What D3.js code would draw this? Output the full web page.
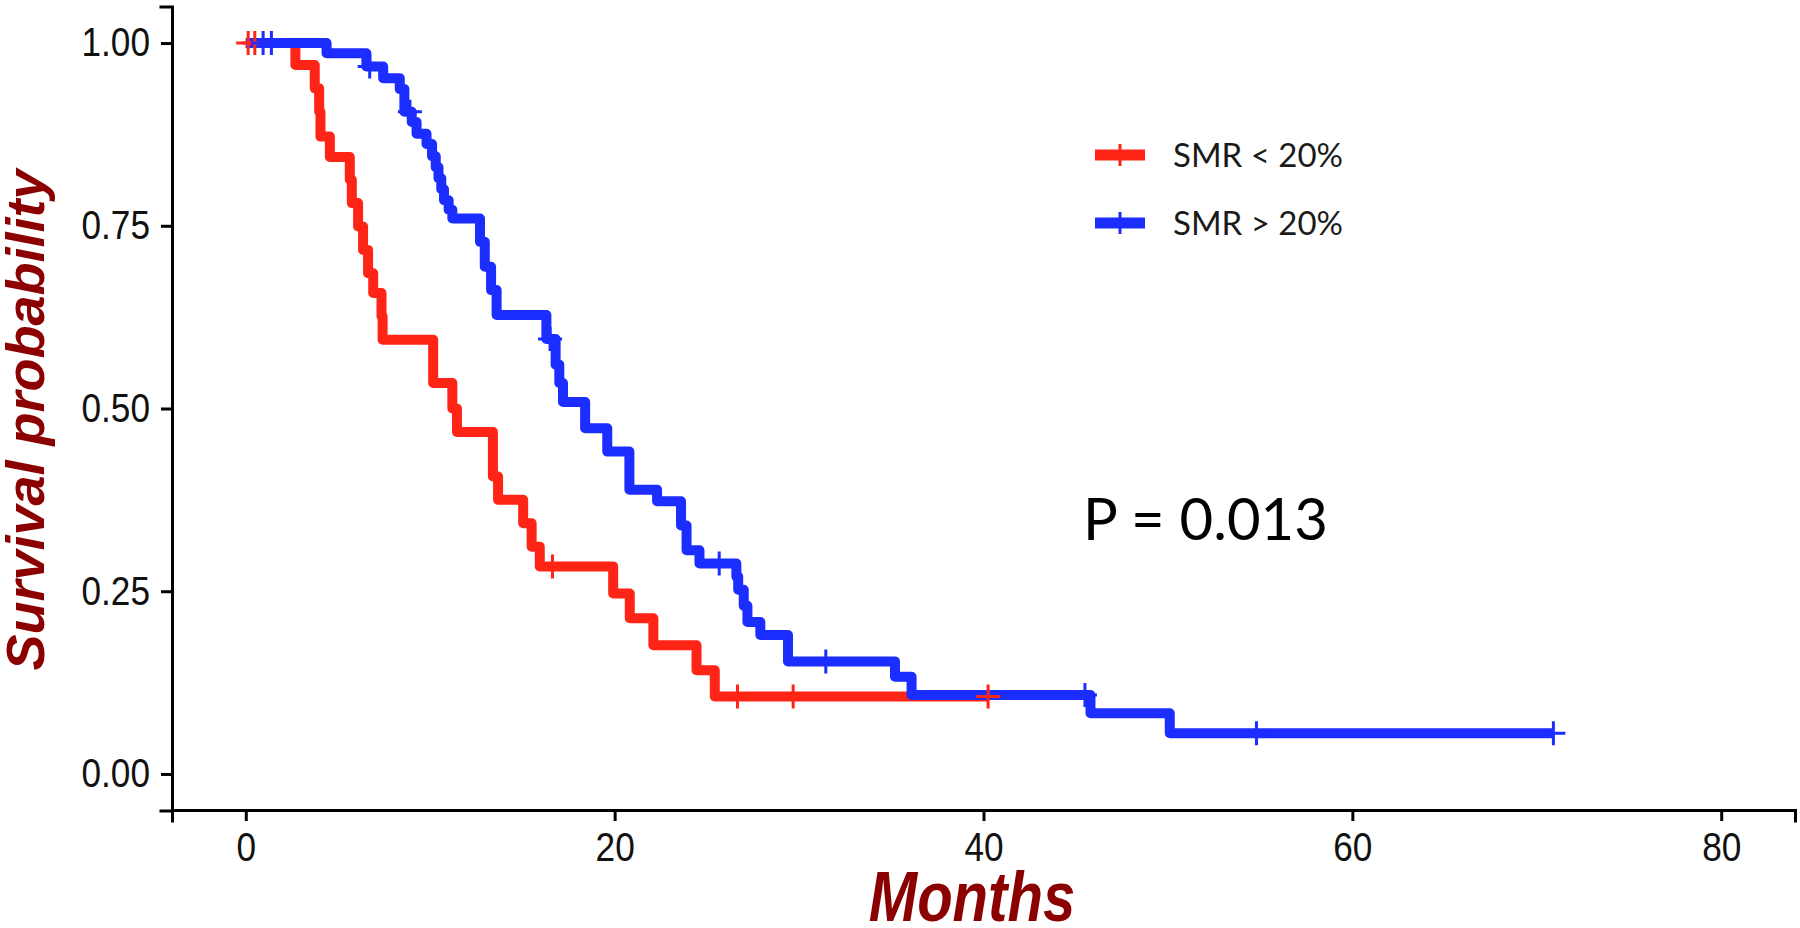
<!DOCTYPE html>
<html>
<head>
<meta charset="utf-8">
<script src="https://cdn.jsdelivr.net/npm/d3@7"></script>
<style>
  body { margin: 0; background: #fff; }
  svg { display: block; }
</style>
</head>
<body>
<svg id="chart" width="1800" height="928"></svg>
<script>
// Kaplan-Meier curves: [months, survival after the drop]
const redSteps = [
  [0, 1], [2.69, 0.970], [3.74, 0.938], [3.98, 0.906], [4.05, 0.872], [4.56, 0.844],
  [5.64, 0.813], [5.75, 0.781], [6.09, 0.749], [6.36, 0.717], [6.63, 0.685], [6.91, 0.658],
  [7.36, 0.626], [7.42, 0.594], [10.16, 0.535], [11.2, 0.50], [11.45, 0.468], [13.4, 0.407],
  [13.68, 0.375], [15.04, 0.343], [15.5, 0.311], [15.94, 0.284], [19.92, 0.247], [20.82, 0.213],
  [22.1, 0.176], [24.44, 0.142], [25.43, 0.106]
];
const redCensor = [0.13, 0.49, 16.63, 26.66, 29.68, 40.25];

const blueSteps = [
  [0, 1], [4.38, 0.986], [6.54, 0.968], [7.45, 0.952], [8.35, 0.937], [8.6, 0.906],
  [9.0, 0.892], [9.26, 0.876], [9.8, 0.862], [10.1, 0.845], [10.3, 0.83], [10.45, 0.815],
  [10.6, 0.80], [10.75, 0.785], [11.0, 0.772], [11.2, 0.760], [12.7, 0.728], [12.96, 0.694],
  [13.3, 0.662], [13.6, 0.628], [16.3, 0.595], [16.8, 0.56], [17.0, 0.535], [17.2, 0.509],
  [18.4, 0.473], [19.6, 0.441], [20.8, 0.389], [22.3, 0.373], [23.6, 0.34], [23.9, 0.306],
  [24.6, 0.288], [26.6, 0.27], [26.7, 0.252], [27.0, 0.23], [27.2, 0.208], [27.9, 0.190],
  [29.4, 0.154], [35.2, 0.133], [36.1, 0.108], [45.8, 0.083], [50.1, 0.0556]
];
const blueCensor = [0.94, 1.39, 6.72, 8.9, 16.5, 25.67, 31.45, 45.5, 54.8, 70.9];

const groups = ["SMR < 20%", "SMR > 20%"];
const colors = ["#ff2516", "#1b2dff"];
const xTicks = [0, 20, 40, 60, 80];
const yTicks = [0, 0.25, 0.5, 0.75, 1];
const pText = "P = 0.013";

const svg = d3.select("#chart");
const x = d3.scaleLinear().domain([-4, 84]).range([172, 1795]);
const y = d3.scaleLinear().domain([-0.05, 1.05]).range([810.5, 6.5]);

function survAt(steps, t) {
  let s = 1;
  steps.forEach(d => { if (d[0] <= t) s = d[1]; });
  return s;
}

// axes
const xAxis = svg.append("g")
  .attr("transform", "translate(0,810)")
  .call(d3.axisBottom(x).tickValues(xTicks).tickSizeOuter(0).tickSize(11).tickPadding(12));
const yAxis = svg.append("g")
  .attr("transform", "translate(172,0)")
  .call(d3.axisLeft(y).tickValues(yTicks).tickFormat(d3.format(".2f")).tickSizeOuter(0).tickSize(11).tickPadding(14));

[xAxis, yAxis].forEach(a => {
  a.select(".domain").attr("stroke", "#000").attr("stroke-width", 3).attr("stroke-linecap", "square");
  a.selectAll(".tick line").attr("stroke", "#000").attr("stroke-width", 3);
  // the plot in the original was stretched a bit vertically
  a.selectAll(".tick text")
    .attr("fill", "#111")
    .attr("transform", "scale(0.88,1)")
    .style("font-family", "'Liberation Sans', Arial, sans-serif")
    .style("font-size", "40px");
});

// axis titles
svg.append("text")
  .attr("transform", "translate(972,921) scale(0.83,1)")
  .attr("text-anchor", "middle")
  .attr("fill", "#8b0000")
  .style("font-family", "'Liberation Sans', Arial, sans-serif")
  .style("font-size", "70px").style("font-weight", "bold").style("font-style", "italic")
  .text("Months");

svg.append("text")
  .attr("transform", "translate(44,420) rotate(-90)")
  .attr("text-anchor", "middle")
  .attr("fill", "#8b0000")
  .style("font-family", "'Liberation Sans', Arial, sans-serif")
  .style("font-size", "54px").style("font-weight", "bold").style("font-style", "italic")
  .text("Survival probability");

// survival curves
const line = d3.line()
  .x(d => x(d[0]))
  .y(d => y(d[1]))
  .curve(d3.curveStepAfter);

const series = [
  { steps: redSteps, censor: redCensor },
  { steps: blueSteps, censor: blueCensor }
];

series.forEach((s, i) => {
  const last = d3.max(s.censor);
  const pts = s.steps.concat([[last, survAt(s.steps, last)]]);
  svg.append("path")
    .datum(pts)
    .attr("fill", "none")
    .attr("stroke", colors[i])
    .attr("stroke-width", 10)
    .attr("stroke-linejoin", "round")
    .attr("d", line);
});

// censor marks
function plus(cx, cy, r) {
  return "M" + (cx - r) + "," + cy + "H" + (cx + r) + "M" + cx + "," + (cy - r) + "V" + (cy + r);
}

series.forEach((s, i) => {
  svg.append("g").selectAll("path")
    .data(s.censor)
    .join("path")
    .attr("d", t => plus(x(t), y(survAt(s.steps, t)), 12))
    .attr("stroke", colors[i])
    .attr("stroke-width", 3)
    .attr("fill", "none");
});

// legend
const legend = svg.append("g");
groups.forEach((g, i) => {
  const ly = 155 + i * 68;
  legend.append("line")
    .attr("x1", 1095).attr("x2", 1145).attr("y1", ly).attr("y2", ly)
    .attr("stroke", colors[i]).attr("stroke-width", 11);
  legend.append("path")
    .attr("d", plus(1120, ly, 11))
    .attr("stroke", colors[i]).attr("stroke-width", 3);
  legend.append("text")
    .attr("x", 1173).attr("y", ly + 12)
    .attr("fill", "#1a1a1a")
    .style("font-family", "Lato, 'Open Sans', sans-serif")
    .style("font-size", "33px")
    .text(g);
});

// p-value
svg.append("text")
  .attr("x", 1083).attr("y", 540)
  .attr("fill", "#000")
  .style("font-family", "Lato, 'Open Sans', sans-serif")
  .style("font-size", "58px")
  .text(pText);
</script>
</body>
</html>
